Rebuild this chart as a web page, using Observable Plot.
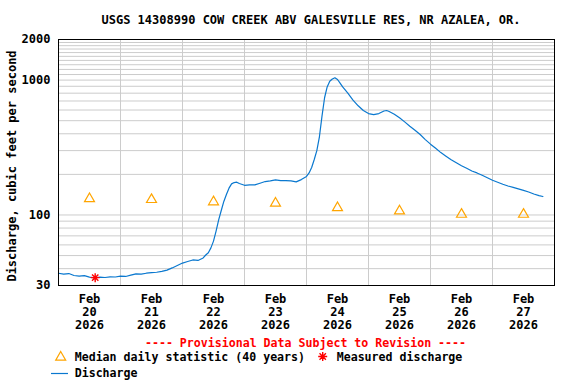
<!DOCTYPE html>
<html><head><meta charset="utf-8">
<script src="https://cdn.jsdelivr.net/npm/d3@7"></script>
<script src="https://cdn.jsdelivr.net/npm/@observablehq/plot@0.6"></script>
<style>
body{margin:0;background:#fff;}
#chart svg{display:block;}
</style></head><body><div id="chart"></div>
<script>
// ---- data ----
const title = "USGS 14308990 COW CREEK ABV GALESVILLE RES, NR AZALEA, OR.";
const yLabel = "Discharge, cubic feet per second";
const provisional = "---- Provisional Data Subject to Revision ----";
const legendMedian = "Median daily statistic (40 years)";
const legendMeasured = "Measured discharge";
const legendDischarge = "Discharge";

// hours after 2026-02-20 00:00
const dischargeHours = [0,2,4,6,8,10,12,14,16,18,20,22,24,26,28,30,32,34,36,38,40,42,44,46,48,50,52,54,56,57,58,59,60,61,62,63,64,65,66,67,68,69,70,72,74,76,78,80,82,84,86,88,90,92,94,95,96,97,98,99,100,101,102,103,104,105,106,107,108,109,110,112,114,116,118,120,122,124,126,127,128,130,132,134,136,138,140,142,144,146,148,150,152,154,156,158,160,162,164,166,168,170,172,174,176,178,180,182,184,186,187.5];
const dischargeValues = [37,36.4,36.8,35.6,35.2,35.5,34.6,34.2,34.6,34.4,34.8,34.7,35.2,35.0,35.8,36.6,36.4,37.0,37.4,37.6,38.2,39.0,40.5,42.2,44.0,45.2,46.4,46.0,48.0,50.5,52.5,57,64,76,92,108,126,142,158,170,174,175,171,166,167,167,172,177,179,182,180,180,179,176,183,188,193,205,225,258,300,380,540,740,890,980,1020,1040,1010,950,890,800,710,645,595,565,555,565,590,595,585,558,525,490,455,425,395,362,335,312,290,273,257,244,232,222,212,205,197,189,181,175,169,164,160,156,152,148,143,139,137];

const medianDays = [20,21,22,23,24,25,26,27];
const medianValues = [132,130,125,122,113,107,101,101];

const measuredHours = [14.2];
const measuredValues = [34.3];

const yTickValues = [30,100,1000,2000];
const yGridValues = [40,50,60,70,80,90,100,200,300,400,500,600,700,800,900,1000,1100,1200,1300,1400,1500,1600,1700,1800,1900];
const xGridDays = [21,22,23,24,25,26,27];
const xLabelDays = [20,21,22,23,24,25,26,27];
const monthLabel = "Feb";
const yearLabel = "2026";

// ---- build ----
const t0 = Date.UTC(2026,1,20);
const H = 3600e3;
const discharge = dischargeHours.map((h,i)=>({t:new Date(t0+h*H), v:dischargeValues[i]}));
const medians = medianDays.map((d,i)=>({t:new Date(Date.UTC(2026,1,d,12)), v:medianValues[i]}));
const measured = measuredHours.map((h,i)=>({t:new Date(t0+h*H), v:measuredValues[i]}));
const xGrid = xGridDays.map(d=>new Date(Date.UTC(2026,1,d)));
const xLabels = xLabelDays.map(d=>new Date(Date.UTC(2026,1,d,12)));

const FONT = "'DejaVu Sans Mono', monospace";
const BLUE = "#0a78cf", ORANGE = "#ffa500", RED = "#ff0000", GRID = "#cccccc";

const star8 = {draw(ctx, size){
  const r = Math.sqrt(size/Math.PI);
  for (let i=0;i<4;i++){const a=i*Math.PI/4, dx=r*Math.cos(a), dy=r*Math.sin(a); ctx.moveTo(-dx,-dy); ctx.lineTo(dx,dy);}
}};

const plot = Plot.plot({
  width: 576, height: 384,
  marginTop: 39, marginLeft: 58, marginRight: 22, marginBottom: 99,
  style: {fontFamily: FONT, fontSize: "12px", fontWeight: "bold", background: "#fff", color: "#000"},
  x: {type: "utc", domain: [new Date(t0), new Date(Date.UTC(2026,1,28))]},
  y: {type: "log", domain: [30, 2000]},
  marks: [
    Plot.ruleX(xGrid, {stroke: GRID, strokeWidth: 1}),
    Plot.ruleY(yGridValues, {stroke: GRID, strokeWidth: 1}),
    Plot.axisX(xLabels, {tickSize: 0, tickPadding: 8, lineHeight: 1.1, tickFormat: d => `${monthLabel}\n${d.getUTCDate()}\n${yearLabel}`, label: null}),
    Plot.axisY(yTickValues, {tickSize: 0, tickPadding: 8, tickFormat: d => String(d), label: null}),
    Plot.dot(medians, {x: "t", y: "v", symbol: "triangle", r: 3.7, stroke: ORANGE, strokeWidth: 1.2, fill: "none"}),
    Plot.line(discharge, {x: "t", y: "v", stroke: BLUE, strokeWidth: 1.2}),
    Plot.dot(measured, {x: "t", y: "v", symbol: star8, r: 4.5, stroke: RED, strokeWidth: 1.4, fill: "none"}),
    Plot.frame({stroke: "#000", strokeWidth: 1})
  ]
});

const svg = d3.select(plot);
const txt = (x, y, s, opts={}) => svg.append("text")
  .attr("x", x).attr("y", y).attr("dy", "0.35em")
  .attr("text-anchor", opts.anchor || "start")
  .attr("fill", opts.fill || "#000")
  .style("font-family", FONT).style("font-weight", "bold")
  .style("font-size", (opts.size || 12) + "px")
  .attr("transform", opts.transform || null)
  .text(s);

txt(311, 19.5, title, {anchor: "middle"});
svg.append("text").attr("transform", "translate(12,166) rotate(-90)")
  .attr("text-anchor", "middle").attr("dy", "0.35em")
  .style("font-family", FONT).style("font-weight", "bold").style("font-size", "12px")
  .attr("fill", "#000").text(yLabel);
txt(305.5, 343, provisional, {anchor: "middle", fill: RED, size: 11.6});
svg.append("path").attr("transform", "translate(60.7,357.3)")
  .attr("d", d3.symbol(d3.symbolTriangle, Math.PI*3.7*3.7)()).attr("fill", "none").attr("stroke", ORANGE).attr("stroke-width", 1.2);
txt(74.7, 356.5, legendMedian, {size: 11.6});
svg.append("path").attr("transform", "translate(322.7,356.5)")
  .attr("d", d3.symbol(star8, Math.PI*4.5*4.5)()).attr("fill", "none").attr("stroke", RED).attr("stroke-width", 1.4);
txt(336.7, 356.5, legendMeasured, {size: 11.6});
svg.append("line").attr("x1", 51).attr("x2", 68).attr("y1", 373.5).attr("y2", 373.5).attr("stroke", BLUE).attr("stroke-width", 1.2);
txt(74.7, 373.3, legendDischarge, {size: 11.6});

document.getElementById("chart").appendChild(plot);
</script></body></html>
